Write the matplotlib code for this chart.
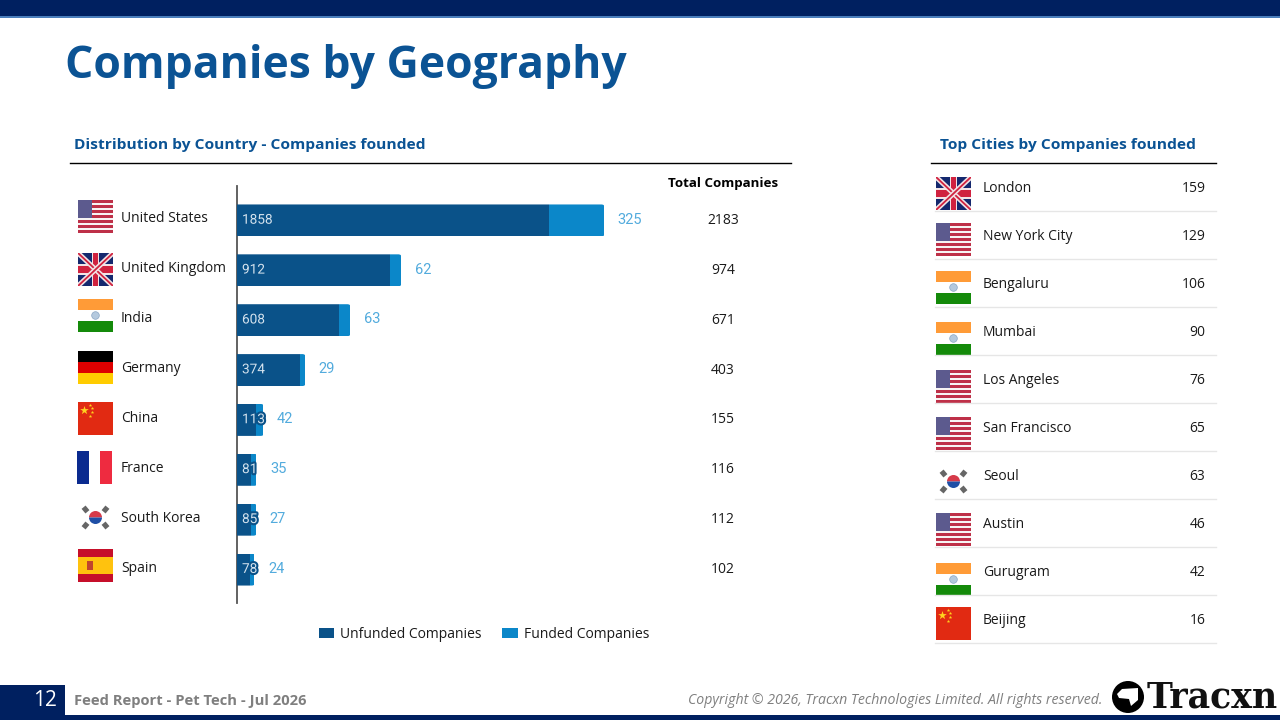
from __future__ import annotations

import matplotlib

matplotlib.use("Agg")

import matplotlib.patheffects as pe
import matplotlib.pyplot as plt
from matplotlib.patches import Circle, FancyBboxPatch, Polygon, Rectangle, Wedge
from matplotlib.transforms import Affine2D, blended_transform_factory

countries = ["United States", "United Kingdom", "India", "Germany", "China", "France", "South Korea", "Spain"]
unfunded = [1858, 912, 608, 374, 113, 81, 85, 78]
funded = [325, 62, 63, 29, 42, 35, 27, 24]
totals = [2183, 974, 671, 403, 155, 116, 112, 102]
country_flags = ["us", "uk", "in", "de", "cn", "fr", "kr", "es"]

cities = ["London", "New York City", "Bengaluru", "Mumbai", "Los Angeles",
          "San Francisco", "Seoul", "Austin", "Gurugram", "Beijing"]
city_counts = [159, 129, 106, 90, 76, 65, 63, 46, 42, 16]
city_flags = ["uk", "us", "in", "in", "us", "us", "kr", "us", "in", "cn"]

NAVY = "#002060"
TITLE_BLUE = "#0B5394"
DARK_BAR = "#0A5289"
LIGHT_BAR = "#0B87C9"
FUNDED_TEXT = "#52ABDD"
FONT = "Open Sans"

plt.rcParams["font.family"] = [FONT, "DejaVu Sans"]


def us_flag(ax, x, y, w, h):
    for i in range(13):
        color = "#BE3048" if i % 2 == 0 else "#F7F3F3"
        ax.add_patch(Rectangle((x, y + i * h / 13), w, h / 13, fc=color, lw=0))
    ax.add_patch(Rectangle((x, y), w * 0.4, h * 7 / 13, fc="#5C5A8E", lw=0))


def uk_flag(ax, x, y, w, h):
    box = Rectangle((x, y), w, h, fc="#14286E", lw=0)
    ax.add_patch(box)
    for pts in ([(x, y), (x + w, y + h)], [(x, y + h), (x + w, y)]):
        line, = ax.plot(*zip(*pts), color="#F2E4E6", lw=3.6, solid_capstyle="butt")
        line.set_clip_path(box)
        line, = ax.plot(*zip(*pts), color="#D0223F", lw=1.3, solid_capstyle="butt")
        line.set_clip_path(box)
    ax.add_patch(Rectangle((x + w * 0.39, y), w * 0.22, h, fc="#F2E4E6", lw=0))
    ax.add_patch(Rectangle((x, y + h * 0.33), w, h * 0.34, fc="#F2E4E6", lw=0))
    ax.add_patch(Rectangle((x + w * 0.44, y), w * 0.12, h, fc="#D0223F", lw=0))
    ax.add_patch(Rectangle((x, y + h * 0.39), w, h * 0.22, fc="#D0223F", lw=0))


def india_flag(ax, x, y, w, h):
    ax.add_patch(Rectangle((x, y), w, h / 3, fc="#FF9B37", lw=0))
    ax.add_patch(Rectangle((x, y + 2 * h / 3), w, h / 3, fc="#148A0A", lw=0))
    ax.add_patch(Circle((x + w / 2, y + h / 2), 3.8, fc="#B4C9DE", ec="#8AA5C4", lw=0.5))


def germany_flag(ax, x, y, w, h):
    for i, color in enumerate(["#000000", "#DD0000", "#FFCC00"]):
        ax.add_patch(Rectangle((x, y + i * h / 3), w, h / 3, fc=color, lw=0))


def china_flag(ax, x, y, w, h):
    ax.add_patch(Rectangle((x, y), w, h, fc="#E12A12", lw=0))
    ax.scatter([x + 6], [y + 8], marker="*", s=42, c="#FFD21E", linewidths=0)
    ax.scatter([x + 12, x + 14, x + 14, x + 12], [y + 3, y + 6, y + 10, y + 14],
               marker="*", s=7, c="#FFD21E", linewidths=0)


def france_flag(ax, x, y, w, h):
    ax.add_patch(Rectangle((x - 1, y), w / 3, h, fc="#0A2A8F", lw=0))
    ax.add_patch(Rectangle((x - 1 + 2 * w / 3, y), w / 3, h, fc="#EE2B40", lw=0))


def korea_flag(ax, x, y, w, h):
    cx, cy = x + w / 2, y + h / 2
    ax.add_patch(Wedge((cx, cy), 6.5, 180, 360, fc="#D63A4A", lw=0))
    ax.add_patch(Wedge((cx, cy), 6.5, 0, 180, fc="#1F4FA6", lw=0))
    for dx, dy, angle in [(-10, -8, 50), (10, -8, -50), (-10, 8, -50), (10, 8, 50)]:
        rot = Affine2D().rotate_deg_around(cx + dx, cy + dy, angle) + ax.transData
        ax.add_patch(Rectangle((cx + dx - 3, cy + dy - 2.6), 6, 5.2, fc="#666666", lw=0, transform=rot))


def spain_flag(ax, x, y, w, h):
    ax.add_patch(Rectangle((x, y), w, h, fc="#C60F2A", lw=0))
    ax.add_patch(Rectangle((x, y + h / 4), w, h / 2, fc="#FFC20E", lw=0))
    ax.add_patch(Rectangle((x + 9, y + 12), 6, 9, fc="#C0442E", lw=0))


flag_drawers = {"us": us_flag, "uk": uk_flag, "in": india_flag, "de": germany_flag,
                "cn": china_flag, "fr": france_flag, "kr": korea_flag, "es": spain_flag}

fig = plt.figure(figsize=(12.8, 7.2), dpi=100, facecolor="white")

# page layer in pixel coordinates for the slide furniture
page = fig.add_axes([0, 0, 1, 1])
page.set_xlim(0, 1280)
page.set_ylim(720, 0)
page.axis("off")

page.add_patch(Rectangle((0, 0), 1280, 16, fc=NAVY, lw=0))
page.add_patch(Rectangle((0, 16), 1280, 1.5, fc="#4A7EBB", lw=0))
page.add_patch(Rectangle((0, 715), 1280, 5, fc=NAVY, lw=0))
page.add_patch(Rectangle((0, 685), 65, 30, fc=NAVY, lw=0))

page.text(65, 66.5, "Companies by Geography", fontsize=32.05, fontweight="bold", color=TITLE_BLUE, va="center")
page.text(74, 145.5, "Distribution by Country - Companies founded", fontsize=11.15, fontweight="bold",
          color=TITLE_BLUE, va="center")
page.text(940, 145.5, "Top Cities by Companies founded", fontsize=11.15, fontweight="bold",
          color=TITLE_BLUE, va="center")
page.plot([70, 791], [162.5, 162.5], color="black", lw=1)
page.plot([931, 1216], [162.5, 162.5], color="black", lw=1)
page.text(723, 184, "Total Companies", fontsize=9.6, fontweight="bold", color="black", ha="center", va="center")

# country flags, tops
for code, top in zip(country_flags, [200, 253, 299, 351, 402, 451, 501, 549]):
    flag_drawers[code](page, 78, top, 35, 33)

# city table
for i, (city, count, code) in enumerate(zip(cities, city_counts, city_flags)):
    row_y = 188.5 + 48 * i
    page.text(983, row_y, city, fontsize=10, color="#1A1A1A", va="center")
    page.text(1205.5, row_y, str(count), fontsize=10, color="#1A1A1A", ha="right", va="center")
    page.plot([935, 1216], [row_y + 22, row_y + 22], color="#E6E6E6", lw=1)
for code, top in zip(city_flags, [177, 223, 271, 322, 370, 417, 465, 513, 563, 607]):
    flag_drawers[code](page, 936, top, 35, 33)

# footer
page.text(45, 701, "12", fontsize=15, color="white", ha="center", va="center")
page.text(74, 701, "Feed Report - Pet Tech - Jul 2026", fontsize=10.6, fontweight="bold", color="#7F7F7F", va="center")
page.text(1102, 701, "Copyright \u00a9 2026, Tracxn Technologies Limited. All rights reserved.", fontsize=10.15,
          style="italic", color="#7F7F7F", ha="right", va="center")
page.add_patch(Circle((1128, 697), 16, fc="black", lw=0))
page.add_patch(Polygon([(1117, 694), (1122, 689), (1138, 688), (1138, 700), (1131, 706), (1129, 699), (1119, 698)],
                       fc="white", lw=0))
page.text(1147, 697, "Tracxn", fontsize=25, fontweight="bold", family="DejaVu Serif", color="#111111", va="center")

# bar chart, 0.168 px per company
ax = fig.add_axes([237 / 1280, 1 - 603 / 720, 403.2 / 1280, 417 / 720])
ax.patch.set_visible(False)
ax.set_xlim(0, 2400)
ax.set_ylim(7.67, -0.69)
for side in ("top", "right", "bottom"):
    ax.spines[side].set_visible(False)
ax.spines["left"].set_color("#555555")
ax.spines["left"].set_linewidth(1.3)
ax.set_xticks([])
ax.set_yticks([])

rows = list(range(len(countries)))
bar_h = 0.64
dark = ax.barh(rows, unfunded, height=bar_h, color=DARK_BAR, label="Unfunded Companies", zorder=3)
light = ax.barh(rows, funded, left=unfunded, height=bar_h, color=LIGHT_BAR, label="Funded Companies", zorder=2)

# rounded right ends: clip the bars to a rounded outline
for row, total, seg_d, seg_l in zip(rows, totals, dark, light):
    outline = FancyBboxPatch((-40, row - bar_h / 2), total + 46, bar_h,
                             boxstyle="round,pad=0,rounding_size=20",
                             mutation_aspect=0.0033, transform=ax.transData)
    seg_d.set_clip_path(outline)
    seg_l.set_clip_path(outline)

halo = [pe.withStroke(linewidth=3, foreground=DARK_BAR)]
for row, value in zip(rows, unfunded):
    ax.annotate(str(value), (0, row), xytext=(3.6, 0.5), textcoords="offset points", fontsize=9.8,
                family="Roboto", color="#D5E3EE", va="center", zorder=5, path_effects=halo)
for row, value, total in zip(rows, funded, totals):
    ax.annotate(str(value), (total, row), xytext=(10, 0.5), textcoords="offset points", fontsize=10.5,
                family="Roboto", color=FUNDED_TEXT, va="center")

# side columns share the bar rows but sit at page x positions
side = blended_transform_factory(page.transData, ax.transData)
for row, name, total in zip(rows, countries, totals):
    page.text(121, row - 0.03, name, fontsize=10, color="#1A1A1A", va="center", transform=side)
    page.text(723, row, str(total), fontsize=10, color="#1A1A1A", ha="center", va="center", transform=side)

fig.legend(handles=[dark, light], loc="center", bbox_to_anchor=(484 / 1280, 1 - 634.5 / 720), ncol=2,
           frameon=False, fontsize=10, handlelength=1.1, handleheight=0.65, handletextpad=0.45,
           columnspacing=1.5, labelcolor="#1A1A1A")

fig.savefig("out.png", dpi=100)
plt.close(fig)
